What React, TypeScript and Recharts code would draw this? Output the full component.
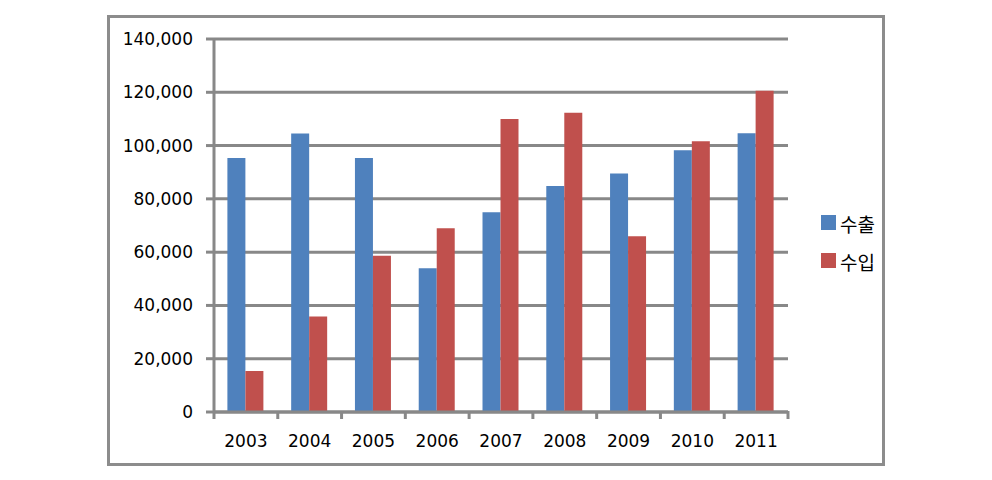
import React from 'react';
import { BarChart, Bar, XAxis, YAxis, CartesianGrid } from 'recharts';

const years = ['2003', '2004', '2005', '2006', '2007', '2008', '2009', '2010', '2011'];
const exportsVals = [95300, 104500, 95300, 54000, 75000, 84800, 89500, 98200, 104600];
const importsVals = [15400, 35800, 58600, 69000, 110000, 112300, 66000, 101600, 120600];
const yTicks = [0, 20000, 40000, 60000, 80000, 100000, 120000, 140000];
const seriesNames = ['수출', '수입'];
const seriesColors = ['#4F81BD', '#C0504D'];

const GRID = '#888888';
const FONT = '"DejaVu Sans", sans-serif';

const data = years.map((year, i) => ({
  year,
  [seriesNames[0]]: exportsVals[i],
  [seriesNames[1]]: importsVals[i],
}));

const XTick = (props: any) => {
  const { x, y, payload, index, visibleTicksCount } = props;
  const half = payload.offset || 0;
  const isLast = index === visibleTicksCount - 1;
  return (
    <g>
      <line x1={x - half} x2={x - half} y1={y - 1} y2={y + 7} stroke={GRID} strokeWidth={3} />
      {isLast && <line x1={x + half} x2={x + half} y1={y - 1} y2={y + 7} stroke={GRID} strokeWidth={3} />}
      <text x={x} y={y + 35} textAnchor="middle" fill="#000" fontSize={17} fontFamily={FONT}>
        {payload.value}
      </text>
    </g>
  );
};

export default function App() {
  return (
    <div style={{ position: 'absolute', left: 0, top: 0, width: 992, height: 480, background: '#fff' }}>
      <div
        style={{
          position: 'absolute',
          left: 107,
          top: 15,
          width: 778,
          height: 451,
          border: '3px solid #8c8c8c',
          boxSizing: 'border-box',
        }}
      />
      <div style={{ position: 'absolute', left: 0, top: 0 }}>
        <BarChart
          width={992}
          height={480}
          data={data}
          margin={{ top: 39, right: 204, bottom: 38, left: 114 }}
          barCategoryGap="21%"
          barGap={0}
        >
          <CartesianGrid vertical={false} stroke={GRID} strokeWidth={3} />
          <XAxis
            dataKey="year"
            height={30}
            axisLine={{ stroke: GRID, strokeWidth: 3 }}
            tickLine={false}
            tickSize={0}
            tickMargin={0}
            tick={<XTick />}
            interval={0}
          />
          <YAxis
            width={100}
            domain={[0, 140000]}
            ticks={yTicks}
            interval={0}
            axisLine={{ stroke: GRID, strokeWidth: 3 }}
            tickLine={{ stroke: GRID, strokeWidth: 3 }}
            tickSize={8}
            tickMargin={13}
            tick={{ fill: '#000', fontSize: 17, fontFamily: FONT }}
            tickFormatter={(v: number) => v.toLocaleString('en-US')}
          />
          <Bar dataKey={seriesNames[0]} fill={seriesColors[0]} isAnimationActive={false} />
          <Bar dataKey={seriesNames[1]} fill={seriesColors[1]} isAnimationActive={false} />
        </BarChart>
      </div>
      <div
        style={{
          position: 'absolute',
          left: 821,
          top: 213,
          fontFamily: '"Noto Sans CJK KR", sans-serif',
          fontSize: 19,
          color: '#000',
        }}
      >
        {seriesNames.map((name, i) => (
          <div key={name} style={{ display: 'flex', alignItems: 'flex-start', height: 38 }}>
            <div style={{ width: 15, height: 15, background: seriesColors[i], marginTop: 2, marginRight: 4 }} />
            <span style={{ lineHeight: '21px' }}>{name}</span>
          </div>
        ))}
      </div>
    </div>
  );
}
